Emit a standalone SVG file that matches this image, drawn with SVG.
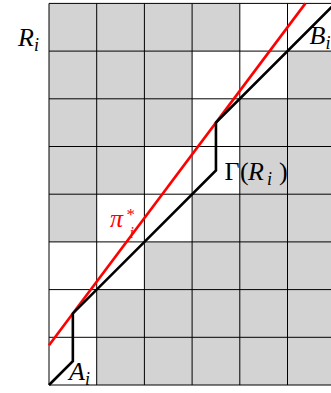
<svg xmlns="http://www.w3.org/2000/svg" width="331" height="393" viewBox="0 0 331 393">
<style>
.cell{fill:#d3d3d3;stroke:none}
.grid{stroke:#000;stroke-width:1;fill:none}
.gamma{stroke:#000;stroke-width:2.6;fill:none;stroke-linejoin:miter}
.pi{stroke:#ff0000;stroke-width:2.6;fill:none}
.lbl{font-family:"Liberation Serif","DejaVu Serif",serif;font-size:26px;fill:#000}
.it{font-style:italic}
.red{fill:#ff0000}
</style>
<rect width="331" height="393" fill="#fff"/>
<g id="cells">
<rect class="cell" x="49" y="3.4" width="190.8" height="47.7"/>
<rect class="cell" x="49" y="51.1" width="143.1" height="47.7"/>
<rect class="cell" x="287.5" y="51.1" width="47.7" height="47.7"/>
<rect class="cell" x="49" y="98.8" width="143.1" height="47.7"/>
<rect class="cell" x="239.8" y="98.8" width="95.4" height="47.7"/>
<rect class="cell" x="49" y="146.5" width="95.4" height="47.7"/>
<rect class="cell" x="239.8" y="146.5" width="95.4" height="47.7"/>
<rect class="cell" x="49" y="194.2" width="47.7" height="47.7"/>
<rect class="cell" x="192.1" y="194.2" width="143.1" height="47.7"/>
<rect class="cell" x="144.4" y="241.9" width="190.8" height="47.7"/>
<rect class="cell" x="96.7" y="289.6" width="238.5" height="95.4"/>
</g>
<g id="grid" class="grid">
<path d="M49 3.4V385M96.7 3.4V385M144.4 3.4V385M192.1 3.4V385M239.8 3.4V385M287.5 3.4V385M335.2 3.4V385"/>
<path d="M49 3.4H335.2M49 51.1H335.2M49 98.8H335.2M49 146.5H335.2M49 194.2H335.2M49 241.9H335.2M49 289.6H335.2M49 337.3H335.2M49 385H335.2"/>
</g>
<g id="connectors">
<path id="pi-star" class="pi" d="M49 345.25L305.39 3.4"/>
<path id="gamma-path" class="gamma" d="M49 385L72.85 361.15V313.45L215.95 170.35V122.65L335.2 3.4"/>
</g>
<g id="labels">
<g id="label-R"><text class="lbl it" x="18" y="46">R<tspan font-size="18" dy="5">i</tspan></text></g>
<g id="label-B"><text class="lbl it" x="309.5" y="43.5">B<tspan font-size="18" dy="5">i</tspan></text></g>
<g id="label-Gamma"><text class="lbl" y="179.5"><tspan x="224.5">Γ</tspan><tspan x="240">(</tspan><tspan x="248" class="it">R</tspan><tspan x="267" y="184.5" class="it" font-size="18">i</tspan><tspan x="279" y="179.5">)</tspan></text></g>
<g id="label-pi"><text class="lbl it red" x="110" y="226.5">π<tspan x="126.5" y="219.5" font-size="17" font-style="normal">*</tspan><tspan x="129.5" y="237.5" font-size="16">i</tspan></text></g>
<g id="label-A"><text class="lbl it" x="69" y="380">A<tspan font-size="18" dy="4.5">i</tspan></text></g>
</g>
</svg>
